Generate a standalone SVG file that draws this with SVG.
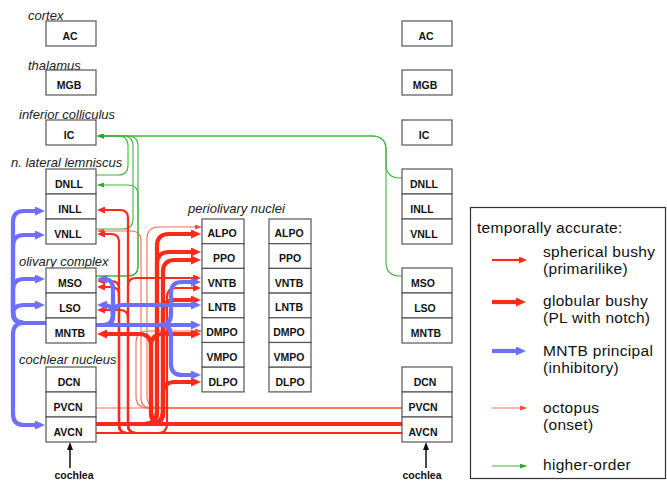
<svg xmlns="http://www.w3.org/2000/svg" width="667" height="482" viewBox="0 0 667 482">
<defs>
<style>
.box{fill:#fff;stroke:#555;stroke-width:1.2}
.lbl{font-family:"Liberation Sans",Arial,sans-serif;font-weight:bold;font-size:10.5px;text-anchor:middle;fill:#111}
.grp{font-family:"Liberation Sans",Arial,sans-serif;font-style:italic;font-size:13px;fill:#222}
.leg{font-family:"Liberation Sans",Arial,sans-serif;font-size:15.5px;letter-spacing:0.3px;fill:#111}
.c path{fill:none}
.sph{stroke:#ff2a1a;stroke-width:2.2;marker-end:url(#aS)}
.glob{stroke:#ff2a1a;stroke-width:4.2;marker-end:url(#aG)}
.mntb{stroke:#6e6eff;stroke-width:4.2;marker-end:url(#aB)}
.oct{stroke:#ff6a5c;stroke-width:1.1;marker-end:url(#aO)}
.ho{stroke:#3cb83c;stroke-width:1.1;marker-end:url(#aH)}
.blk{stroke:#111;stroke-width:1.5;marker-end:url(#aK)}
.nm{marker-end:none}
</style>
<marker id="aS" markerUnits="userSpaceOnUse" markerWidth="8" markerHeight="7" refX="2" refY="3.5" orient="auto"><path d="M0,0 L8,3.5 L0,7 z" fill="#ff2a1a"/></marker>
<marker id="aG" markerUnits="userSpaceOnUse" markerWidth="10" markerHeight="9" refX="3" refY="4.5" orient="auto"><path d="M0,0 L10,4.5 L0,9 z" fill="#ff2a1a"/></marker>
<marker id="aB" markerUnits="userSpaceOnUse" markerWidth="10" markerHeight="9" refX="3" refY="4.5" orient="auto"><path d="M0,0 L10,4.5 L0,9 z" fill="#6e6eff"/></marker>
<marker id="aO" markerUnits="userSpaceOnUse" markerWidth="7" markerHeight="5" refX="6" refY="2.5" orient="auto"><path d="M0,0 L7,2.5 L0,5 z" fill="#ff4a3c"/></marker>
<marker id="aH" markerUnits="userSpaceOnUse" markerWidth="7" markerHeight="5" refX="6" refY="2.5" orient="auto"><path d="M0,0 L7,2.5 L0,5 z" fill="#2faa2f"/></marker>
<marker id="aK" markerUnits="userSpaceOnUse" markerWidth="8" markerHeight="6" refX="6" refY="3" orient="auto"><path d="M0,0 L8,3 L0,6 z" fill="#111"/></marker>
</defs>
<rect width="667" height="482" fill="#fff"/>

<g id="connectors" class="c">
<!-- higher-order -->
<path class="ho" d="M96,175 H118 Q128,175 128,165 V146 Q128,136 118,136 H98"/>
<path class="ho" d="M96,229 H123 Q133,229 133,219 V146 Q133,136 123,136 H98"/>
<path class="ho" d="M96,276 H128 Q138,276 138,266 V146 Q138,136 128,136 H98"/>
<path class="ho" d="M96,276 H128 Q138,276 138,266 V195 Q138,185 128,185 H98"/>
<path class="ho" d="M402,178 H400 Q386,178 386,164 V150 Q386,136 372,136 H98"/>
<path class="ho" d="M402,276 H400 Q386,276 386,262 V150 Q386,136 372,136 H98"/>
<!-- octopus -->
<path class="oct nm" d="M96,408 H402"/>
<path class="oct" d="M402,408 H151 Q141,408 141,398 V241 Q141,231 131,231 H98"/>
<path class="oct" d="M402,408 H159 Q147,408 147,396 V239 Q147,227 159,227 H201"/>
<path class="oct" d="M402,408 H148 Q136,408 136,396 V343 Q136,331 148,331 H201"/>
<!-- spherical bushy -->
<path class="sph nm" d="M96,433 H402"/>
<path class="sph" d="M402,433 H136 Q128,433 128,425 V218 Q128,210 120,210 H103"/>
<path class="sph" d="M402,433 H136 Q128,433 128,425 V286 Q128,278 136,278 H195"/>
<path class="sph" d="M402,433 H136 Q128,433 128,425 V318 Q128,310 120,310 H103"/>
<path class="sph" d="M402,433 H127 Q119,433 119,425 V242 Q119,234 111,234 H103"/>
<path class="sph" d="M402,433 H127 Q119,433 119,425 V289 Q119,281 111,281 H103"/>
<path class="sph" d="M402,433 H127 Q119,433 119,425 V295 Q119,287 111,287 H103"/>
<path class="sph" d="M96,433 H158 Q167,433 167,424 V297 Q167,288 176,288 H195"/>
<!-- globular bushy -->
<path class="glob nm" d="M96,424 H402"/>
<path class="glob" d="M402,424 H163 Q151,424 151,412 V346 Q151,334 139,334 H104"/>
<path class="glob" d="M402,424 H163 Q151,424 151,412 V346 Q151,334 163,334 H194"/>
<path class="glob" d="M96,424 H145 Q157,424 157,412 V246 Q157,234 169,234 H194"/>
<path class="glob" d="M96,424 H145 Q157,424 157,412 V264 Q157,252 169,252 H194"/>
<path class="glob" d="M96,424 H151 Q163,424 163,412 V272 Q163,260 175,260 H194"/>
<path class="glob" d="M96,424 H151 Q163,424 163,412 V312 Q163,300 175,300 H194"/>
<path class="glob" d="M96,424 H151 Q163,424 163,412 V394 Q163,382 175,382 H194"/>
<!-- MNTB principal -->
<path class="mntb" d="M46,323 H24 Q13,323 13,334 V414 Q13,425 24,425 H38"/>
<path class="mntb" d="M46,323 H24 Q13,323 13,312 V222 Q13,211 24,211 H38"/>
<path class="mntb" d="M46,323 H24 Q13,323 13,312 V246 Q13,235 24,235 H38"/>
<path class="mntb" d="M46,323 H24 Q13,323 13,312 V290 Q13,279 24,279 H38"/>
<path class="mntb" d="M46,323 H24 Q13,323 13,314 Q13,305 24,305 H38"/>
<path class="mntb" d="M96,325 H194"/>
<path class="mntb" d="M96,325 H160 Q171,325 171,314 V293 Q171,282 182,282 H194"/>
<path class="mntb" d="M96,325 H160 Q171,325 171,336 V364 Q171,375 182,375 H194"/>
<path class="mntb" d="M96,325 H104 Q113,325 113,316 V289 Q113,279 104,279"/>
<path class="mntb" d="M96,325 H104 Q113,325 113,315 Q113,305 104,305"/>
<path class="mntb" d="M96,325 H104 Q113,325 113,315 Q113,305 122,305 H194"/>
<!-- cochlea -->
<path class="blk" d="M70,468 V444"/>
<path class="blk" d="M426,468 V444"/>
</g>

<g id="groupLabels">
<text class="grp" x="28" y="19.5">cortex</text>
<text class="grp" x="28" y="69.5">thalamus</text>
<text class="grp" x="19" y="118.5">inferior colliculus</text>
<text class="grp" x="11" y="167">n. lateral lemniscus</text>
<text class="grp" x="19" y="266">olivary complex</text>
<text class="grp" x="19" y="364">cochlear nucleus</text>
<text class="grp" x="188" y="213">periolivary nuclei</text>
</g>

<g id="L_AC"><rect class="box" x="46" y="21" width="50" height="25"/><text class="lbl" x="70" y="40">AC</text></g>
<g id="L_MGB"><rect class="box" x="46" y="70" width="50" height="25"/><text class="lbl" x="69" y="89">MGB</text></g>
<g id="L_IC"><rect class="box" x="46" y="120" width="50" height="25"/><text class="lbl" x="69" y="139">IC</text></g>
<g id="L_DNLL"><rect class="box" x="46" y="169" width="50" height="25"/><text class="lbl" x="69" y="188">DNLL</text></g>
<g id="L_INLL"><rect class="box" x="46" y="194" width="50" height="25"/><text class="lbl" x="70" y="213">INLL</text></g>
<g id="L_VNLL"><rect class="box" x="46" y="219" width="50" height="25"/><text class="lbl" x="68" y="238">VNLL</text></g>
<g id="L_MSO"><rect class="box" x="46" y="268" width="50" height="25"/><text class="lbl" x="70" y="287">MSO</text></g>
<g id="L_LSO"><rect class="box" x="46" y="293" width="50" height="25"/><text class="lbl" x="70" y="312">LSO</text></g>
<g id="L_MNTB"><rect class="box" x="46" y="318" width="50" height="25"/><text class="lbl" x="70" y="337">MNTB</text></g>
<g id="L_DCN"><rect class="box" x="46" y="367" width="50" height="25"/><text class="lbl" x="69" y="386">DCN</text></g>
<g id="L_PVCN"><rect class="box" x="46" y="392" width="50" height="25"/><text class="lbl" x="68" y="411">PVCN</text></g>
<g id="L_AVCN"><rect class="box" x="46" y="417" width="50" height="25"/><text class="lbl" x="68" y="436">AVCN</text></g>

<g id="P1_ALPO"><rect class="box" x="202" y="219" width="42" height="24.7"/><text class="lbl" x="222" y="237.3">ALPO</text></g>
<g id="P1_PPO"><rect class="box" x="202" y="243.7" width="42" height="24.7"/><text class="lbl" x="224" y="262">PPO</text></g>
<g id="P1_VNTB"><rect class="box" x="202" y="268.4" width="42" height="24.7"/><text class="lbl" x="222" y="286.7">VNTB</text></g>
<g id="P1_LNTB"><rect class="box" x="202" y="293.1" width="42" height="24.7"/><text class="lbl" x="222" y="311.4">LNTB</text></g>
<g id="P1_DMPO"><rect class="box" x="202" y="317.8" width="42" height="24.7"/><text class="lbl" x="222" y="336.1">DMPO</text></g>
<g id="P1_VMPO"><rect class="box" x="202" y="342.5" width="42" height="24.7"/><text class="lbl" x="222" y="360.8">VMPO</text></g>
<g id="P1_DLPO"><rect class="box" x="202" y="367.2" width="42" height="24.7"/><text class="lbl" x="223" y="385.5">DLPO</text></g>

<g id="P2_ALPO"><rect class="box" x="269" y="219" width="42" height="24.7"/><text class="lbl" x="289" y="237.3">ALPO</text></g>
<g id="P2_PPO"><rect class="box" x="269" y="243.7" width="42" height="24.7"/><text class="lbl" x="290" y="262">PPO</text></g>
<g id="P2_VNTB"><rect class="box" x="269" y="268.4" width="42" height="24.7"/><text class="lbl" x="289" y="286.7">VNTB</text></g>
<g id="P2_LNTB"><rect class="box" x="269" y="293.1" width="42" height="24.7"/><text class="lbl" x="289" y="311.4">LNTB</text></g>
<g id="P2_DMPO"><rect class="box" x="269" y="317.8" width="42" height="24.7"/><text class="lbl" x="289" y="336.1">DMPO</text></g>
<g id="P2_VMPO"><rect class="box" x="269" y="342.5" width="42" height="24.7"/><text class="lbl" x="289" y="360.8">VMPO</text></g>
<g id="P2_DLPO"><rect class="box" x="269" y="367.2" width="42" height="24.7"/><text class="lbl" x="290" y="385.5">DLPO</text></g>

<g id="R_AC"><rect class="box" x="402" y="21" width="50" height="25"/><text class="lbl" x="426" y="40">AC</text></g>
<g id="R_MGB"><rect class="box" x="402" y="70" width="50" height="25"/><text class="lbl" x="425" y="89">MGB</text></g>
<g id="R_IC"><rect class="box" x="402" y="120" width="50" height="25"/><text class="lbl" x="424" y="139">IC</text></g>
<g id="R_DNLL"><rect class="box" x="402" y="169" width="50" height="25"/><text class="lbl" x="424" y="188">DNLL</text></g>
<g id="R_INLL"><rect class="box" x="402" y="194" width="50" height="25"/><text class="lbl" x="422" y="213">INLL</text></g>
<g id="R_VNLL"><rect class="box" x="402" y="219" width="50" height="25"/><text class="lbl" x="424" y="238">VNLL</text></g>
<g id="R_MSO"><rect class="box" x="402" y="268" width="50" height="25"/><text class="lbl" x="423" y="287">MSO</text></g>
<g id="R_LSO"><rect class="box" x="402" y="293" width="50" height="25"/><text class="lbl" x="425" y="312">LSO</text></g>
<g id="R_MNTB"><rect class="box" x="402" y="318" width="50" height="25"/><text class="lbl" x="426" y="337">MNTB</text></g>
<g id="R_DCN"><rect class="box" x="402" y="367" width="50" height="25"/><text class="lbl" x="425" y="386">DCN</text></g>
<g id="R_PVCN"><rect class="box" x="402" y="392" width="50" height="25"/><text class="lbl" x="423" y="411">PVCN</text></g>
<g id="R_AVCN"><rect class="box" x="402" y="417" width="50" height="25"/><text class="lbl" x="423" y="436">AVCN</text></g>

<g id="cochleaLabels">
<text class="lbl" x="74" y="479">cochlea</text>
<text class="lbl" x="422" y="479">cochlea</text>
</g>

<g id="legend">
<rect x="470.5" y="207.5" width="195" height="271" fill="#fff" stroke="#333" stroke-width="1.2"/>
<text class="leg" x="477" y="233">temporally accurate:</text>
<path class="sph" fill="none" d="M492,260 H521"/>
<text class="leg" x="543" y="257">spherical bushy</text>
<text class="leg" x="543" y="273.5">(primarilike)</text>
<path class="glob" fill="none" d="M492,302 H519"/>
<text class="leg" x="543" y="306">globular bushy</text>
<text class="leg" x="543" y="322.5">(PL with notch)</text>
<path class="mntb" fill="none" d="M492,351 H519"/>
<text class="leg" x="543" y="356">MNTB principal</text>
<text class="leg" x="543" y="372.5">(inhibitory)</text>
<path class="oct" fill="none" d="M492,408 H526"/>
<text class="leg" x="543" y="413">octopus</text>
<text class="leg" x="543" y="429.5">(onset)</text>
<path class="ho" fill="none" d="M492,466 H526"/>
<text class="leg" x="543" y="470">higher-order</text>
</g>
</svg>
